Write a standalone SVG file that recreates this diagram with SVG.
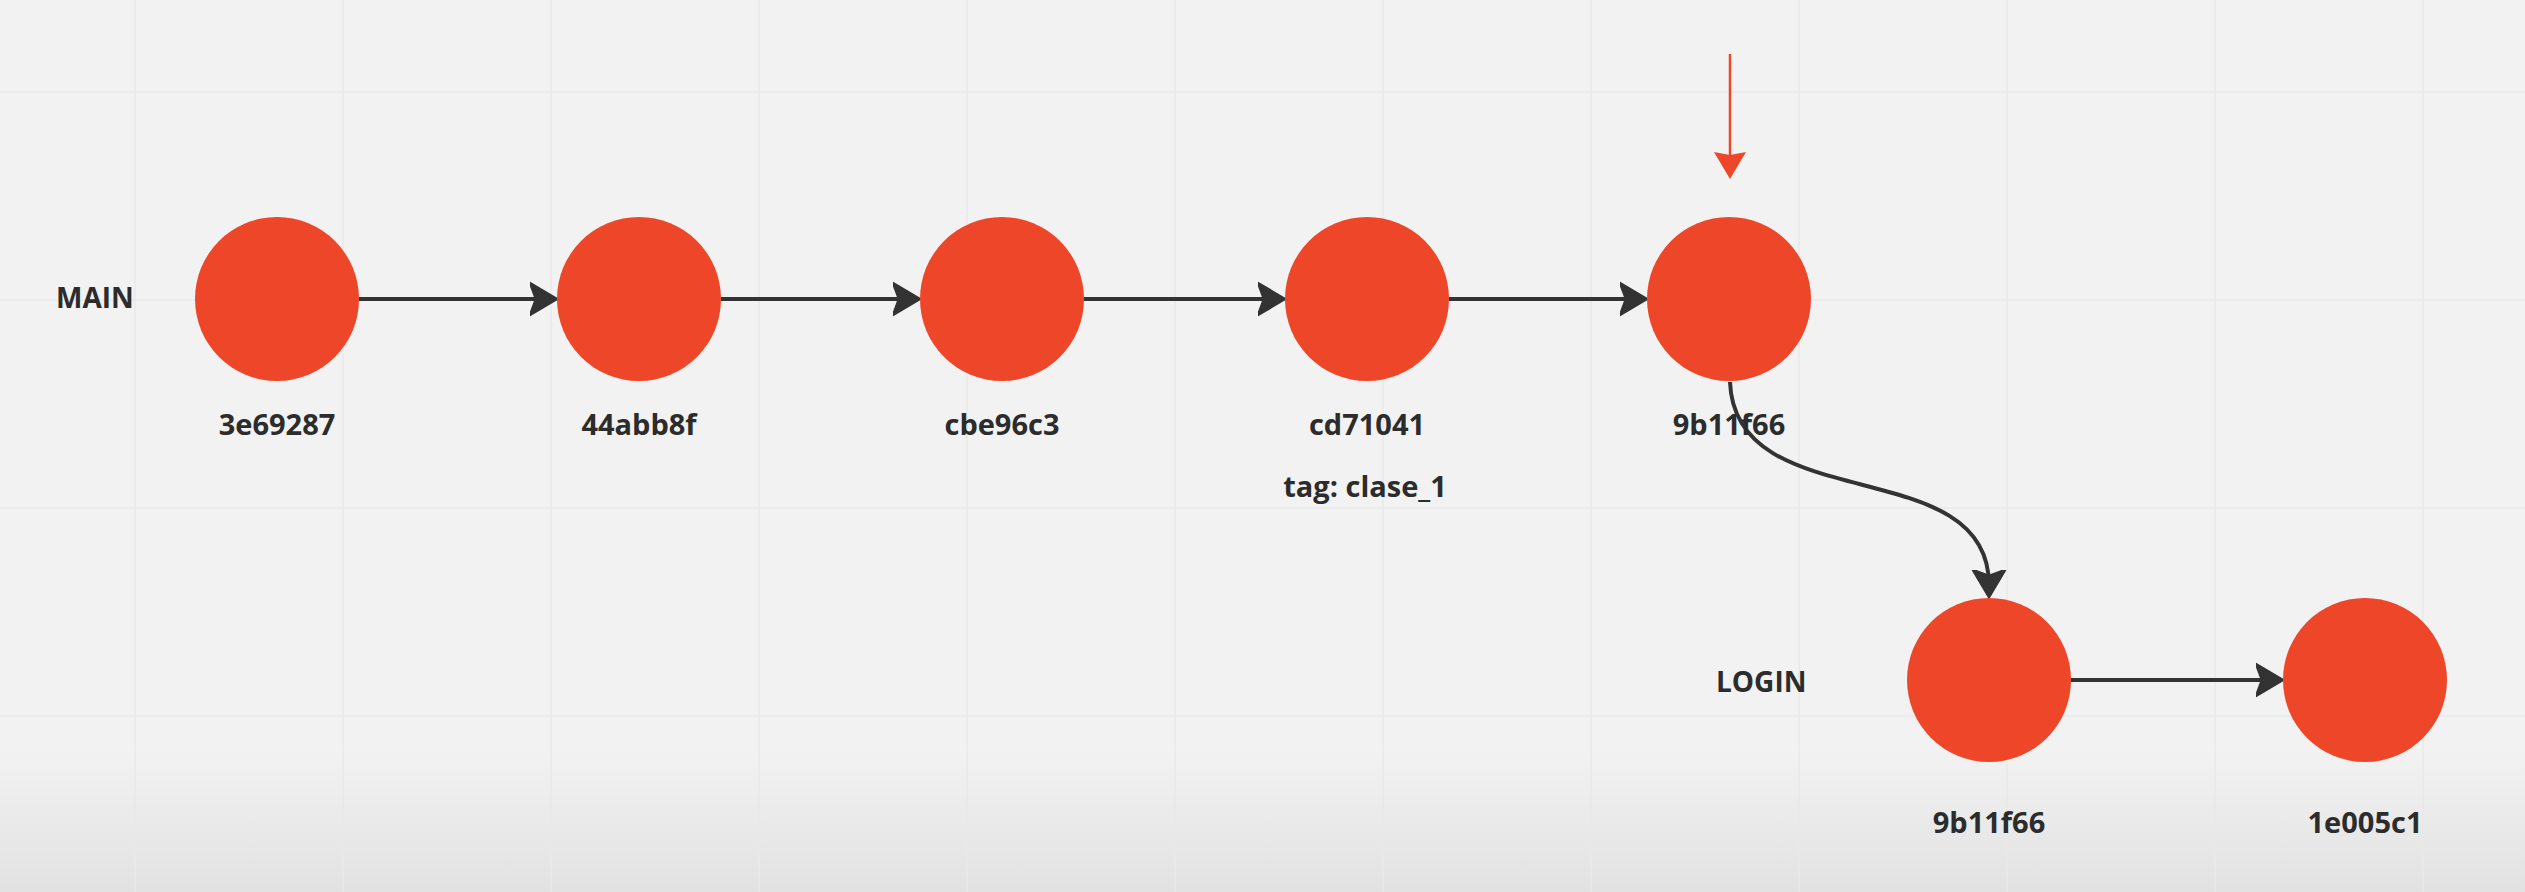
<svg xmlns="http://www.w3.org/2000/svg" width="2525" height="892" viewBox="0 0 2525 892">
<defs>
<style>
.lbl{font-family:"Open Sans","Liberation Sans",sans-serif;font-weight:700;font-size:29px;fill:#2c2c2c;text-anchor:middle}
.br{font-family:"Open Sans","Liberation Sans",sans-serif;font-weight:700;font-size:28px;fill:#2c2c2c}
.node{fill:#ee4629}
.conn{fill:none;stroke:#333333;stroke-width:4}
.grid line{stroke:#e9e9e9;stroke-width:1.5}
</style>
<linearGradient id="bg" x1="0" y1="0" x2="0" y2="1">
<stop offset="0" stop-color="#f2f2f2"/>
<stop offset="0.84" stop-color="#f2f2f2"/>
<stop offset="1" stop-color="#e2e2e2"/>
</linearGradient>
<marker id="ah" markerUnits="userSpaceOnUse" markerWidth="32" markerHeight="36" viewBox="0 -18 32 36" refX="15" refY="0" orient="auto">
<path d="M27,0 L0,-16 L6,0 L0,16 Z" fill="#333333" stroke="#333333" stroke-width="2.5" stroke-linejoin="round"/>
</marker>
<marker id="ahr" markerUnits="userSpaceOnUse" markerWidth="36" markerHeight="36" viewBox="0 -18 36 36" refX="14" refY="0" orient="auto">
<path d="M27,0 L0,-16 L3,0 L0,16 Z" fill="#ee4629"/>
</marker>
</defs>
<rect width="2525" height="892" fill="url(#bg)"/>
<g class="grid">
<line x1="135" y1="0" x2="135" y2="892"/>
<line x1="343" y1="0" x2="343" y2="892"/>
<line x1="551" y1="0" x2="551" y2="892"/>
<line x1="759" y1="0" x2="759" y2="892"/>
<line x1="967" y1="0" x2="967" y2="892"/>
<line x1="1175" y1="0" x2="1175" y2="892"/>
<line x1="1383" y1="0" x2="1383" y2="892"/>
<line x1="1591" y1="0" x2="1591" y2="892"/>
<line x1="1799" y1="0" x2="1799" y2="892"/>
<line x1="2007" y1="0" x2="2007" y2="892"/>
<line x1="2215" y1="0" x2="2215" y2="892"/>
<line x1="2423" y1="0" x2="2423" y2="892"/>
<line x1="0" y1="92" x2="2525" y2="92"/>
<line x1="0" y1="300" x2="2525" y2="300"/>
<line x1="0" y1="508" x2="2525" y2="508"/>
<line x1="0" y1="716" x2="2525" y2="716"/>
</g>
<g id="connectors">
<path class="conn" d="M359,299 L545,299" marker-end="url(#ah)"/>
<path class="conn" d="M721,299 L908,299" marker-end="url(#ah)"/>
<path class="conn" d="M1084,299 L1273,299" marker-end="url(#ah)"/>
<path class="conn" d="M1449,299 L1635,299" marker-end="url(#ah)"/>
<path class="conn" d="M1730,382 C1735,520 1989,450 1989,585" marker-end="url(#ah)"/>
<path class="conn" d="M2071,680 L2271,680" marker-end="url(#ah)"/>
<path d="M1730,54 L1730,166" fill="none" stroke="#ee4629" stroke-width="2.5" marker-end="url(#ahr)"/>
</g>
<g id="branch-main"><text class="br" x="56" y="308">MAIN</text></g>
<g id="branch-login"><text class="br" x="1716" y="692">LOGIN</text></g>
<g id="n1"><circle class="node" cx="277" cy="299" r="82"/><text class="lbl" x="277" y="435">3e69287</text></g>
<g id="n2"><circle class="node" cx="639" cy="299" r="82"/><text class="lbl" x="639" y="435">44abb8f</text></g>
<g id="n3"><circle class="node" cx="1002" cy="299" r="82"/><text class="lbl" x="1002" y="435">cbe96c3</text></g>
<g id="n4"><circle class="node" cx="1367" cy="299" r="82"/><text class="lbl" x="1367" y="435">cd71041</text><text class="lbl" x="1365" y="497">tag: clase_1</text></g>
<g id="n5"><circle class="node" cx="1729" cy="299" r="82"/><text class="lbl" x="1729" y="435">9b11f66</text></g>
<g id="n6"><circle class="node" cx="1989" cy="680" r="82"/><text class="lbl" x="1989" y="833">9b11f66</text></g>
<g id="n7"><circle class="node" cx="2365" cy="680" r="82"/><text class="lbl" x="2365" y="833">1e005c1</text></g>
</svg>
